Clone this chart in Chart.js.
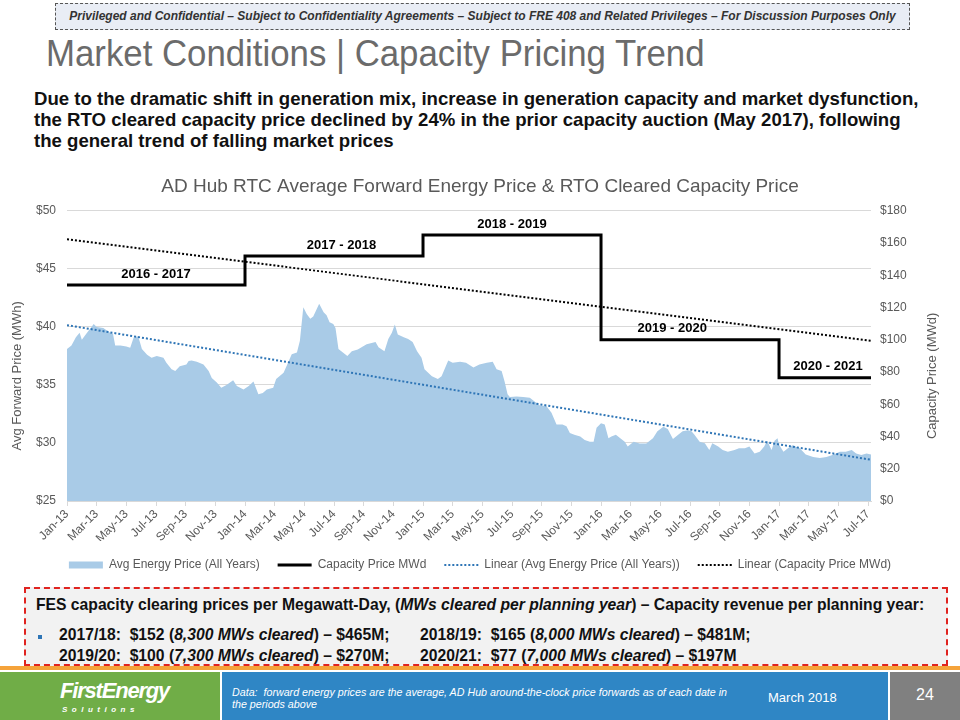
<!DOCTYPE html>
<html>
<head>
<meta charset="utf-8">
<title>Market Conditions | Capacity Pricing Trend</title>
<script src="https://cdn.jsdelivr.net/npm/chart.js@4.4.0/dist/chart.umd.min.js"></script>
<style>
    body { margin: 0; width: 960px; height: 720px; position: relative; overflow: hidden; background: #fff;
           font-family: "Liberation Sans", Arial, sans-serif; }
    .banner { position: absolute; left: 55px; top: 3px; width: 853px; height: 25px; border: 1px dashed #555;
              background: #e9edf5; font-style: italic; font-weight: bold; font-size: 12px; color: #333;
              text-align: center; line-height: 25px; white-space: nowrap; }
    .title { position: absolute; left: 46px; top: 33px; font-size: 37px; color: #6b6b6b; white-space: nowrap;
             transform: scaleX(0.94); transform-origin: left top; }
    .lead { position: absolute; left: 34px; top: 88px; font-size: 18.6px; font-weight: bold;
            color: #111; line-height: 21px; white-space: nowrap; }
    #chartBox { position: absolute; left: 0; top: 165px; }
    .note { position: absolute; left: 24px; top: 587px; width: 920px; height: 75px; border: 2px dashed #e0231f;
            background: #f2f2f2; }
    .note div { position: absolute; font-size: 15.7px; font-weight: bold; color: #111; white-space: nowrap; }
    .bullet { position: absolute; left: 12px; top: 46px; width: 4px; height: 4px; background: #2e75b6; }
    .rule { position: absolute; left: 0; top: 666px; width: 960px; height: 4px; background: #f5a33a; }
    .logo { position: absolute; left: 0; top: 672px; width: 220px; height: 48px; background: #70ad47; color: #fff; }
    .footer { position: absolute; left: 222px; top: 672px; width: 666px; height: 48px; background: #2f86c5; color: #fff; }
    .page { position: absolute; left: 890px; top: 672px; width: 70px; height: 48px; background: #808080; color: #fff;
            font-size: 16px; text-align: center; line-height: 46px; }
</style>
</head>
<body>

<div class="banner">Privileged and Confidential – Subject to Confidentiality Agreements – Subject to FRE 408 and Related Privileges – For Discussion Purposes Only</div>
<div class="title">Market Conditions | Capacity Pricing Trend</div>
<div class="lead">Due to the dramatic shift in generation mix, increase in generation capacity and market dysfunction,<br>the RTO cleared capacity price declined by 24% in the prior capacity auction (May 2017), following<br>the general trend of falling market prices</div>

<div id="chartBox"><canvas id="capacityChart" width="960" height="425"></canvas></div>

<div class="note">
    <div style="left:10px; top:7px;">FES capacity clearing prices per Megawatt-Day, (<i>MWs cleared per planning year</i>) – Capacity revenue per planning year:</div>
    <span class="bullet"></span>
    <div style="left:33px; top:37px;">2017/18:&nbsp; $152 (<i>8,300 MWs cleared</i>) – $465M;</div>
    <div style="left:394px; top:37px;">2018/19:&nbsp; $165 (<i>8,000 MWs cleared</i>) – $481M;</div>
    <div style="left:33px; top:58px;">2019/20:&nbsp; $100 (<i>7,300 MWs cleared</i>) – $270M;</div>
    <div style="left:394px; top:58px;">2020/21:&nbsp; $77 (<i>7,000 MWs cleared</i>) – $197M</div>
</div>

<div class="rule"></div>
<div class="logo">
    <div style="position:absolute; left:60px; top:6px; font-size:22px; font-weight:bold; font-style:italic; letter-spacing:-1.2px;">FirstEnergy</div>
    <div style="position:absolute; left:62px; top:33px; font-size:8px; font-weight:bold; font-style:italic; letter-spacing:4.5px;">Solutions</div>
</div>
<div class="footer">
    <div style="position:absolute; left:10px; top:14px; width:510px; font-size:10.7px; font-style:italic; line-height:12px;">Data:&nbsp; forward energy prices are the average, AD Hub around-the-clock price forwards as of each date in the periods above</div>
    <div style="position:absolute; left:546px; top:18px; font-size:13px;">March 2018</div>
</div>
<div class="page">24</div>

<script>
// Chart data (x values are months since Jan-13)
const monthLabels = ['Jan-13', 'Mar-13', 'May-13', 'Jul-13', 'Sep-13', 'Nov-13', 'Jan-14', 'Mar-14', 'May-14', 'Jul-14',
    'Sep-14', 'Nov-14', 'Jan-15', 'Mar-15', 'May-15', 'Jul-15', 'Sep-15', 'Nov-15', 'Jan-16', 'Mar-16',
    'May-16', 'Jul-16', 'Sep-16', 'Nov-16', 'Jan-17', 'Mar-17', 'May-17', 'Jul-17'];

const energyMonths = [0.0, 0.3, 0.6, 0.85, 1.0, 1.35, 1.65, 1.8, 2.0, 2.45,
    2.9, 3.1, 3.25, 3.6, 4.0, 4.26, 4.5, 4.8, 5.05, 5.4,
    5.7, 6.05, 6.5, 6.7, 7.05, 7.3, 7.6, 8.05, 8.2, 8.4,
    8.75, 9.2, 9.55, 9.76, 10.1, 10.4, 10.75, 11.2, 11.45, 11.9,
    12.25, 12.57, 12.9, 13.2, 13.47, 13.9, 14.1, 14.6, 14.9, 15.15,
    15.5, 15.7, 15.93, 16.16, 16.4, 16.6, 17.0, 17.3, 17.5, 17.7,
    17.95, 18.1, 18.3, 18.6, 18.9, 19.2, 19.6, 20.2, 20.8, 21.0,
    21.4, 21.66, 21.9, 22.1, 22.3, 22.7, 23.0, 23.3, 23.6, 23.9,
    24.1, 24.35, 24.6, 25.0, 25.25, 25.5, 25.7, 26.0, 26.5, 26.9,
    27.4, 27.8, 28.3, 28.7, 28.96, 29.3, 29.5, 29.7, 29.85, 30.3,
    30.75, 31.2, 31.5, 31.9, 32.3, 32.66, 33.0, 33.4, 33.67, 33.9,
    34.2, 34.6, 34.9, 35.25, 35.5, 35.7, 36.0, 36.25, 36.5, 36.7,
    37.0, 37.3, 37.6, 37.8, 38.2, 38.6, 39.05, 39.5, 39.8, 40.2,
    40.5, 40.85, 41.2, 41.5, 41.86, 42.1, 42.3, 42.65, 43.0, 43.3,
    43.5, 43.9, 44.2, 44.55, 45.0, 45.3, 45.7, 46.0, 46.35, 46.7,
    47.0, 47.2, 47.5, 47.7, 47.9, 48.0, 48.3, 48.6, 48.9, 49.4,
    49.8, 50.3, 50.75, 51.2, 51.6, 52.1, 52.5, 52.9, 53.2, 53.55,
    53.9, 54.2];

const energyPrices = [38.1, 38.4, 39.1, 39.5, 38.9, 39.5, 40.0, 40.25, 40.0, 39.9,
    39.5, 39.4, 38.4, 38.4, 38.3, 38.2, 39.1, 39.2, 38.1, 37.6,
    37.35, 37.5, 37.35, 36.9, 36.35, 36.2, 36.6, 36.75, 37.05, 37.1,
    37.0, 36.75, 36.2, 35.6, 35.2, 34.75, 35.0, 35.4, 34.9, 34.6,
    34.9, 35.3, 34.2, 34.3, 34.6, 34.75, 35.5, 36.05, 36.9, 37.65,
    37.8, 38.8, 41.7, 41.1, 40.7, 40.9, 42.0, 41.26, 41.0, 40.4,
    40.25, 39.9, 38.1, 37.8, 37.5, 37.9, 38.05, 38.5, 38.7, 38.25,
    37.9, 38.95, 39.5, 40.2, 39.35, 39.1, 38.95, 38.7, 37.9, 37.35,
    36.35, 36.05, 35.75, 35.5, 35.75, 36.5, 37.1, 36.9, 37.0, 36.9,
    36.5, 36.75, 36.9, 37.0, 36.35, 36.2, 35.3, 34.2, 33.95, 34.0,
    33.95, 33.9, 33.6, 33.2, 33.2, 32.6, 31.6, 31.6, 31.45, 30.85,
    30.7, 30.55, 30.25, 30.1, 30.1, 31.3, 31.7, 31.6, 30.4, 30.55,
    30.7, 30.4, 30.1, 29.7, 30.1, 29.95, 29.95, 30.4, 31.0, 31.4,
    31.2, 30.35, 30.7, 31.0, 31.1, 31.0, 30.7, 30.1, 29.97, 29.4,
    29.97, 29.7, 29.4, 29.25, 29.4, 29.55, 29.55, 29.7, 29.1, 29.25,
    29.7, 30.2, 29.4, 30.2, 30.4, 29.85, 29.25, 29.55, 29.8, 29.55,
    29.0, 28.8, 28.7, 28.8, 28.97, 29.25, 29.25, 29.4, 29.1, 28.97,
    29.1, 29.0];

// RTO cleared capacity price, each value held until the next month mark
const capacityMonths = [0, 12, 24, 36, 48, 54.2];
const capacityPrices = [134, 152, 165, 100, 76.5, 76.5];

// Excel linear trend lines (end points)
const trendMonths = [0, 54.2];
const energyTrend = [40.15, 28.55];
const capacityTrend = [162.3, 99.4];

// Planning year labels over the capacity steps
const periodLabels = ['2016 - 2017', '2017 - 2018', '2018 - 2019', '2019 - 2020', '2020 - 2021'];
const periodLabelMonths = [6, 18.5, 30, 40.8, 51.3];

const chartTitle = 'AD Hub RTC Average Forward Energy Price & RTO Cleared Capacity Price';
const leftAxisTitle = 'Avg Forward Price (MWh)';
const rightAxisTitle = 'Capacity Price (MWd)';

const FONT = '"Liberation Sans", Arial, sans-serif';
const GREY_TEXT = '#595959';

function toPoints(xs, ys) {
    return xs.map((x, i) => ({ x: x, y: ys[i] }));
}

// Draw the "2016 - 2017" style labels above each step
const periodLabelPlugin = {
    id: 'periodLabels',
    afterDatasetsDraw(chart) {
        const ctx = chart.ctx;
        const xScale = chart.scales.x;
        const yScale = chart.scales.y1;
        ctx.save();
        ctx.font = 'bold 13px ' + FONT;
        ctx.fillStyle = '#000';
        ctx.textAlign = 'center';
        ctx.textBaseline = 'middle';
        periodLabels.forEach((label, i) => {
            const x = xScale.getPixelForValue(periodLabelMonths[i]);
            const y = yScale.getPixelForValue(capacityPrices[i]) - 11;
            ctx.fillText(label, x, y);
        });
        ctx.restore();
    }
};

// Axis titles sit centred between the plot top and the legend, as in the Excel original
const axisTitlePlugin = {
    id: 'axisTitles',
    afterDraw(chart) {
        const ctx = chart.ctx;
        const midY = (chart.chartArea.top + chart.legend.top) / 2;
        ctx.save();
        ctx.font = '13px ' + FONT;
        ctx.fillStyle = GREY_TEXT;
        ctx.textAlign = 'center';
        ctx.textBaseline = 'middle';
        [[17, leftAxisTitle], [932, rightAxisTitle]].forEach(([x, text]) => {
            ctx.save();
            ctx.translate(x, midY);
            ctx.rotate(-Math.PI / 2);
            ctx.fillText(text, 0, 0);
            ctx.restore();
        });
        ctx.restore();
    }
};

const legendStyles = ['rect', 'line', 'line', 'line'];
const legendFills = ['#a9cbe7', '#000', '#2e75b6', '#000'];

function createCapacityChart() {
    const ctx = document.getElementById('capacityChart');

    new Chart(ctx, {
        type: 'line',
        data: {
            datasets: [{
                label: 'Avg Energy Price (All Years)',
                data: toPoints(energyMonths, energyPrices),
                yAxisID: 'y',
                backgroundColor: '#a9cbe7',
                borderColor: '#a9cbe7',
                borderWidth: 0,
                fill: 'start',
                pointRadius: 0,
                tension: 0,
                order: 10
            }, {
                label: 'Capacity Price MWd',
                data: toPoints(capacityMonths, capacityPrices),
                yAxisID: 'y1',
                borderColor: '#000',
                borderWidth: 3,
                stepped: 'before',
                fill: false,
                pointRadius: 0,
                order: 1
            }, {
                label: 'Linear (Avg Energy Price (All Years))',
                data: toPoints(trendMonths, energyTrend),
                yAxisID: 'y',
                borderColor: '#2e75b6',
                borderWidth: 2,
                borderDash: [2, 2],
                fill: false,
                pointRadius: 0,
                order: 3
            }, {
                label: 'Linear (Capacity Price MWd)',
                data: toPoints(trendMonths, capacityTrend),
                yAxisID: 'y1',
                borderColor: '#000',
                borderWidth: 2,
                borderDash: [2, 2],
                fill: false,
                pointRadius: 0,
                order: 2
            }]
        },
        options: {
            responsive: false,
            animation: false,
            layout: { padding: { left: 0, right: 0, top: 0, bottom: 9 } },
            plugins: {
                title: {
                    display: true,
                    text: chartTitle,
                    color: GREY_TEXT,
                    font: { family: FONT, size: 19, weight: 'normal' },
                    padding: { top: 10, bottom: 13 }
                },
                legend: {
                    position: 'bottom',
                    labels: {
                        color: GREY_TEXT,
                        font: { family: FONT, size: 12 },
                        usePointStyle: true,
                        pointStyleWidth: 34,
                        boxHeight: 7,
                        padding: 18,
                        generateLabels: chart => chart.data.datasets.map((ds, i) => ({
                            text: ds.label,
                            fillStyle: legendFills[i],
                            strokeStyle: ds.borderColor,
                            lineWidth: i === 0 ? 0 : ds.borderWidth,
                            lineDash: ds.borderDash || [],
                            pointStyle: legendStyles[i],
                            fontColor: GREY_TEXT,
                            hidden: false,
                            datasetIndex: i
                        }))
                    }
                },
                tooltip: { enabled: false }
            },
            scales: {
                x: {
                    type: 'linear',
                    min: 0,
                    max: 54.2,
                    afterFit: scale => { scale.height = 40; },
                    grid: { drawOnChartArea: false, drawTicks: true, tickLength: 5, color: '#d9d9d9' },
                    border: { color: '#d9d9d9' },
                    ticks: {
                        stepSize: 2,
                        includeBounds: false,
                        autoSkip: false,
                        minRotation: 45,
                        maxRotation: 45,
                        padding: 1,
                        color: GREY_TEXT,
                        font: { family: FONT, size: 12 },
                        callback: value => monthLabels[value / 2] || ''
                    }
                },
                y: {
                    position: 'left',
                    min: 25,
                    max: 50,
                    afterFit: scale => { scale.width = 67; },
                    grid: { color: '#d9d9d9', drawTicks: false },
                    border: { display: false },
                    ticks: {
                        stepSize: 5,
                        padding: 11,
                        color: GREY_TEXT,
                        font: { family: FONT, size: 12 },
                        callback: value => '$' + value
                    }
                },
                y1: {
                    position: 'right',
                    min: 0,
                    max: 180,
                    afterFit: scale => { scale.width = 89; },
                    grid: { drawOnChartArea: false, drawTicks: false },
                    border: { display: false },
                    ticks: {
                        stepSize: 20,
                        padding: 9,
                        color: GREY_TEXT,
                        font: { family: FONT, size: 12 },
                        callback: value => '$' + value
                    }
                }
            }
        },
        plugins: [periodLabelPlugin, axisTitlePlugin]
    });
}

createCapacityChart();
</script>
</body>
</html>
